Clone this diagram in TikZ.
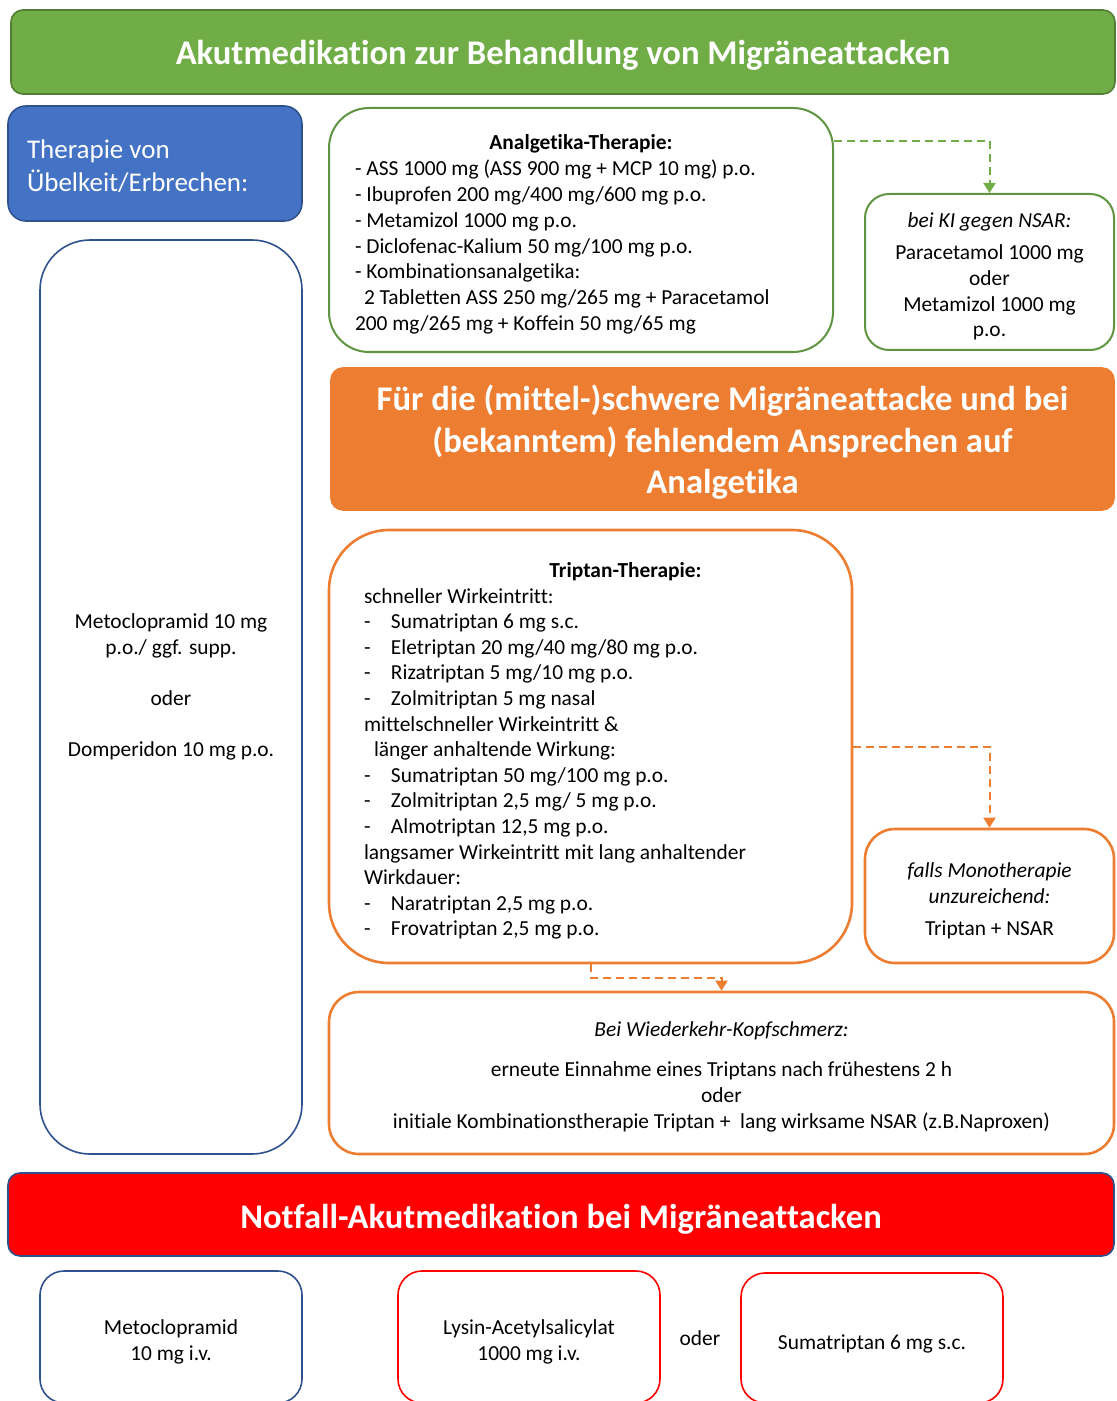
\documentclass[tikz,border=0pt]{standalone}
\usepackage{fontspec}
\setmainfont{Carlito}[Ligatures=CommonOff]
\usetikzlibrary{arrows.meta}
\definecolor{grn}{HTML}{70AD47}
\definecolor{grnline}{HTML}{5F9441}
\definecolor{grndark}{HTML}{507E32}
\definecolor{blu}{HTML}{4472C4}
\definecolor{bludark}{HTML}{2F528F}
\definecolor{org}{HTML}{ED7D31}
\definecolor{rd}{HTML}{FF0000}
\newcommand{\itm}{\makebox[13.5pt][l]{-}}
\newcommand{\dn}[1]{\rule{0pt}{#1}}
\newcommand{\nosp}{\spaceskip=0pt\xspaceskip=0pt\relax}

\begin{document}
\begin{tikzpicture}[x=0.5pt,y=-0.5pt,
  txt/.style={inner sep=0pt, font=\fontsize{10.7}{12.9}\selectfont},
  banner/.style={draw=#1, line width=0.8pt, rounded corners=6pt, text=white, align=center, inner sep=0pt, font=\bfseries\fontsize{17.3}{20.8}\selectfont},
  box/.style={draw=#1, line width=1pt, fill=white, txt},
  link/.style={draw=#1, line width=1pt, dash pattern=on 4pt off 2.5pt, -{Triangle[width=6pt,length=5pt]}}]
  \clip (0,0) rectangle (1116,1401);

  \node[banner=grndark, fill=grn, minimum width=552pt, minimum height=42pt] (title) at (563,52) {\dn{15.5pt}Akutmedikation zur Behandlung von Migräneattacken};

  % Uebelkeit
  \node[draw=bludark, fill=blu, line width=0.8pt, rounded corners=9pt, minimum width=147pt, minimum height=57.5pt, text width=128pt, align=left, text=white, inner sep=0pt, font=\fontsize{13.5}{16.5}\selectfont] (uebel) at (155,163.5) {\nosp\dn{12pt}Therapie von\\Übelkeit/Erbrechen:};
  \node[box=bludark, line width=0.8pt, rounded corners=25pt, minimum width=131pt, minimum height=457pt] (nausea) at (171,697) {};
  \node[txt, align=center] (nauseatxt) at (171,687) {Metoclopramid 10 mg\\p.o./ ggf. supp.\\[12.8pt]oder\\[12.8pt]Domperidon 10 mg p.o.};

  % Analgetika
  \node[box=grnline, rounded corners=20pt, minimum width=252pt, minimum height=122pt, text width=226pt, align=left] (ana) at (581,230) {\nosp\makebox[226pt]{\dn{12pt}\textbf{Analgetika-Therapie:}}\\
    - ASS 1000 mg (ASS 900 mg + MCP 10 mg) p.o.\\
    - Ibuprofen 200 mg/400 mg/600 mg p.o.\\
    - Metamizol 1000 mg p.o.\\
    - Diclofenac-Kalium 50 mg/100 mg p.o.\\
    - Kombinationsanalgetika:\\
    \hspace*{4.5pt}2 Tabletten ASS 250 mg/265 mg + Paracetamol\\
    200 mg/265 mg + Koffein 50 mg/65 mg};
  \node[box=grnline, rounded corners=12pt, minimum width=124.5pt, minimum height=78pt, align=center] (ki) at (989.5,272) {\dn{12pt}\textit{bei KI gegen NSAR:}\\[3pt]Paracetamol 1000 mg\\oder\\Metamizol 1000 mg\\p.o.};
  \draw[link=grn] ([yshift=44.5pt]ana.east) -| (ki.north);

  % Triptane
  \node[banner=org, fill=org, minimum width=391.5pt, minimum height=71pt] (schwer) at (722.5,439) {\dn{16pt}Für die (mittel-)schwere Migräneattacke und bei\\(bekanntem) fehlendem Ansprechen auf\\Analgetika};
  \node[box=org, line width=1.3pt, rounded corners=30pt, minimum width=261.5pt, minimum height=216.5pt, text width=226.5pt, align=left, font=\fontsize{10.7}{12.8}\selectfont] (trip) at (590.5,746.5) {\nosp\makebox[226.5pt]{\dn{12pt}\hspace*{35pt}\textbf{Triptan-Therapie:}}\\
    schneller Wirkeintritt:\\
    \itm Sumatriptan 6 mg s.c.\\
    \itm Eletriptan 20 mg/40 mg/80 mg p.o.\\
    \itm Rizatriptan 5 mg/10 mg p.o.\\
    \itm Zolmitriptan 5 mg nasal\\
    mittelschneller Wirkeintritt \&\\
    \hspace*{5pt}länger anhaltende Wirkung:\\
    \itm Sumatriptan 50 mg/100 mg p.o.\\
    \itm Zolmitriptan 2,5 mg/ 5 mg p.o.\\
    \itm Almotriptan 12,5 mg p.o.\\
    langsamer Wirkeintritt mit lang anhaltender\\
    Wirkdauer:\\
    \itm Naratriptan 2,5 mg p.o.\\
    \itm Frovatriptan 2,5 mg p.o.};
  \node[box=org, line width=1.3pt, rounded corners=15pt, minimum width=124.5pt, minimum height=67pt, align=center] (mono) at (989.5,896) {\dn{12pt}\textit{falls Monotherapie}\\\textit{unzureichend:}\\[3pt]Triptan + NSAR};
  \node[box=org, line width=1.3pt, rounded corners=15pt, minimum width=392.5pt, minimum height=81pt, align=center] (wied) at (721.5,1073) {\dn{11.5pt}\textit{Bei Wiederkehr-Kopfschmerz:}\\[7.2pt]erneute Einnahme eines Triptans nach frühestens 2 h\\oder\\initiale Kombinationstherapie Triptan +~~lang wirksame NSAR (z.B.Naproxen)};
  \draw[link=org] (trip.east) -| (mono.north);
  \draw[link=org] (trip.south) -- ++(0,14) -| (wied.north);

  % Notfall
  \node[banner=bludark, fill=rd, minimum width=553pt, minimum height=41.5pt] (notfall) at (561,1214.5) {\dn{16.5pt}Notfall-Akutmedikation bei Migräneattacken};
  \node[box=bludark, line width=0.8pt, rounded corners=12pt, minimum width=131pt, minimum height=66pt, align=center] (mcpiv) at (171,1337) {\dn{12.5pt}Metoclopramid\\10 mg i.v.};
  \node[box=rd, line width=0.8pt, rounded corners=12pt, minimum width=131pt, minimum height=66pt, align=center] (lasiv) at (529,1337) {\dn{12.5pt}Lysin-Acetylsalicylat\\1000 mg i.v.};
  \node[txt] (oder) at (700,1338) {oder};
  \node[box=rd, line width=0.8pt, rounded corners=12pt, minimum width=131pt, minimum height=65pt, align=center] (sumasc) at (872,1338) {\dn{13pt}Sumatriptan 6 mg s.c.};
\end{tikzpicture}
\end{document}
